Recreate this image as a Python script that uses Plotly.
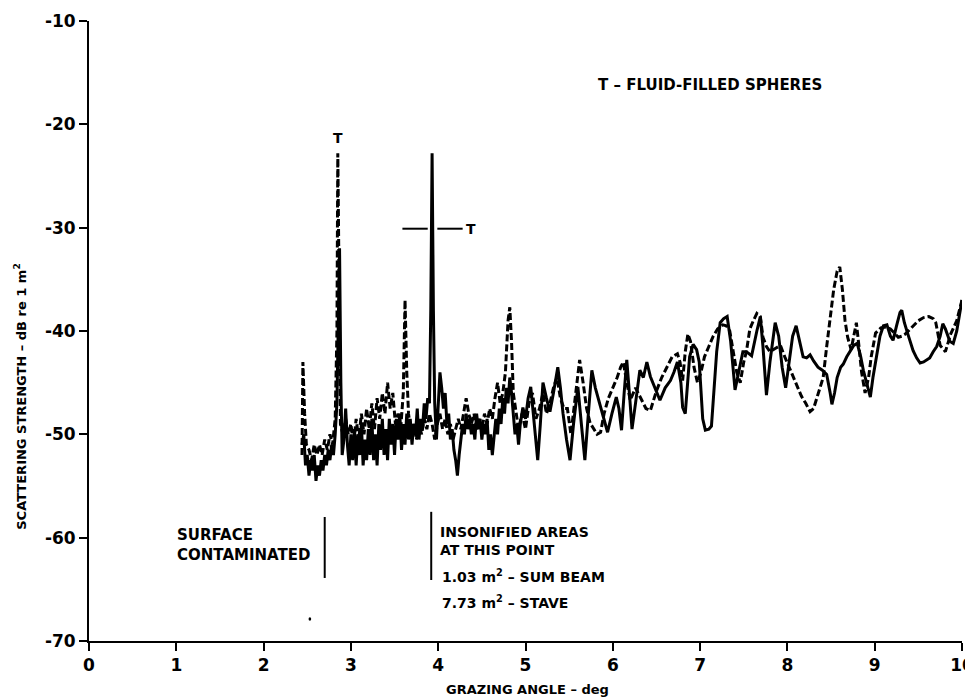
import plotly.graph_objects as go

# ---- data ----
solid_x = [2.44, 2.46, 2.48, 2.50, 2.52, 2.54, 2.56, 2.58, 2.60, 2.62, 2.64, 2.66, 2.68, 2.70, 2.72, 2.74, 2.76, 2.78, 2.80, 2.82, 2.84, 2.855, 2.87, 2.885, 2.90, 2.92, 2.94, 2.96, 2.98, 3.00, 3.02, 3.04, 3.06, 3.08, 3.10, 3.12, 3.14, 3.16, 3.18, 3.20, 3.22, 3.24, 3.26, 3.28, 3.30, 3.32, 3.34, 3.36, 3.38, 3.40, 3.42, 3.44, 3.46, 3.48, 3.50, 3.52, 3.54, 3.56, 3.58, 3.60, 3.62, 3.64, 3.66, 3.68, 3.70, 3.72, 3.74, 3.76, 3.78, 3.80, 3.82, 3.84, 3.86, 3.88, 3.90, 3.915, 3.93, 3.945, 3.96, 3.98, 4.00, 4.02, 4.04, 4.06, 4.08, 4.10, 4.12, 4.14, 4.16, 4.18, 4.20, 4.22, 4.24, 4.26, 4.28, 4.30, 4.32, 4.34, 4.36, 4.38, 4.40, 4.42, 4.44, 4.46, 4.48, 4.50, 4.52, 4.54, 4.56, 4.58, 4.60, 4.62, 4.64, 4.66, 4.68, 4.70, 4.72, 4.74, 4.76, 4.78, 4.80, 4.82, 4.84, 4.86, 4.88, 4.90, 4.92, 4.94, 4.97, 5.00, 5.03, 5.06, 5.09, 5.12, 5.14, 5.17, 5.20, 5.24, 5.28, 5.32, 5.37, 5.40, 5.43, 5.47, 5.51, 5.55, 5.60, 5.64, 5.68, 5.72, 5.76, 5.80, 5.85, 5.90, 5.94, 5.99, 6.04, 6.07, 6.10, 6.13, 6.16, 6.19, 6.22, 6.26, 6.31, 6.35, 6.39, 6.43, 6.48, 6.54, 6.60, 6.66, 6.70, 6.74, 6.78, 6.80, 6.83, 6.88, 6.92, 6.96, 6.99, 7.03, 7.06, 7.10, 7.13, 7.16, 7.19, 7.23, 7.27, 7.31, 7.35, 7.40, 7.43, 7.49, 7.53, 7.59, 7.65, 7.69, 7.72, 7.76, 7.80, 7.86, 7.90, 7.94, 7.98, 8.02, 8.06, 8.10, 8.14, 8.18, 8.22, 8.26, 8.30, 8.35, 8.40, 8.45, 8.49, 8.51, 8.54, 8.57, 8.61, 8.64, 8.68, 8.72, 8.76, 8.80, 8.84, 8.87, 8.91, 8.95, 8.98, 9.02, 9.06, 9.10, 9.14, 9.18, 9.21, 9.25, 9.29, 9.31, 9.34, 9.38, 9.44, 9.48, 9.52, 9.56, 9.60, 9.63, 9.67, 9.71, 9.75, 9.78, 9.81, 9.86, 9.90, 9.94, 9.97, 10.0]
solid_y = [-51, -50, -53, -52, -54, -52.5, -53.5, -52, -54.5, -53, -54, -52.5, -53.5, -52, -53, -51.5, -52.5, -51, -52, -50, -47, -40, -32, -45, -52, -50.5, -47.5, -51, -53, -50, -52.5, -49.5, -53, -50, -52, -49, -53, -50.5, -52.5, -49.5, -52, -48.5, -52.5, -50, -53, -49, -51.5, -48.5, -52, -49.5, -52.5, -48.5, -51, -49, -52, -48.5, -50.5, -48, -51.5, -49, -51, -48, -50.5, -48.5, -51, -49, -50, -47.5, -50.5, -48.5, -49.5, -47, -48.5, -46.5, -47, -38, -22.8, -38, -47, -50.5, -47, -44, -45.5, -47.5, -46, -49, -48, -50.5, -49.5, -51.5, -52.5, -54, -52, -50.5, -49, -50, -48, -49.5, -48.5, -50, -49, -50.5, -48, -49.5, -48.5, -50.5, -49, -50, -48.5, -51.5, -50, -52, -50.5, -48.5, -50, -47.5, -49, -46.5, -48, -45.5, -47, -44.5, -46, -48, -50, -49, -51, -49, -47.4, -48.5, -46.5, -45.4, -48, -51, -52.5, -49, -45, -46.5, -47.8, -46, -43.5, -45.5, -48, -50.5, -52.5, -49, -45.4, -49, -52.5, -48, -43.8, -45.5, -47, -48.5, -49.8, -48, -46.4, -47.5, -49.6, -46, -42.8, -46, -49.5, -47, -43.8, -44.5, -43, -44.4, -45.5, -46.7, -45.5, -44.8, -44, -43, -45, -47.4, -48, -42.5, -41.3, -41.8, -43, -48.5, -49.6, -49.5, -49.2, -45, -42, -39.2, -38.8, -38.6, -41, -45.7, -44.5, -42, -42, -42.4, -40, -38.6, -41.5, -46.2, -43, -39.2, -40.5, -43.5, -45.5, -43, -40.5, -39.5, -41, -42.5, -42.6, -42.3, -42.9, -43.5, -43.8, -44.2, -46, -47.1, -46, -44.5, -43.5, -43.2, -42.5, -42, -41.4, -41.2, -42.5, -43.8, -45, -46.4, -44.5, -42.5, -40.5, -39.5, -39.4, -40.5, -40.9, -39.5, -38.2, -38, -39.2, -40.3, -41.9, -42.6, -43.1, -43, -42.8, -42.6, -42, -41.5, -40.5, -39.3, -39.8, -41, -41.2, -40, -38.5, -37]

dashed_x = [2.44, 2.45, 2.47, 2.49, 2.52, 2.55, 2.58, 2.61, 2.64, 2.67, 2.70, 2.73, 2.76, 2.79, 2.82, 2.84, 2.85, 2.865, 2.88, 2.91, 2.94, 2.97, 3.00, 3.03, 3.06, 3.09, 3.12, 3.15, 3.18, 3.21, 3.24, 3.27, 3.30, 3.33, 3.36, 3.39, 3.42, 3.45, 3.48, 3.51, 3.54, 3.57, 3.60, 3.62, 3.64, 3.66, 3.69, 3.72, 3.75, 3.78, 3.81, 3.84, 3.87, 3.90, 3.93, 3.96, 3.99, 4.02, 4.05, 4.08, 4.11, 4.14, 4.17, 4.20, 4.23, 4.26, 4.29, 4.32, 4.35, 4.38, 4.41, 4.44, 4.47, 4.50, 4.53, 4.56, 4.59, 4.62, 4.65, 4.68, 4.71, 4.74, 4.77, 4.80, 4.82, 4.84, 4.86, 4.89, 4.92, 4.96, 5.00, 5.04, 5.08, 5.12, 5.16, 5.20, 5.24, 5.28, 5.32, 5.36, 5.40, 5.44, 5.48, 5.52, 5.56, 5.62, 5.66, 5.70, 5.74, 5.78, 5.82, 5.86, 5.90, 5.95, 6.00, 6.05, 6.09, 6.12, 6.16, 6.20, 6.26, 6.32, 6.38, 6.43, 6.50, 6.56, 6.62, 6.68, 6.74, 6.77, 6.80, 6.83, 6.86, 6.89, 6.93, 6.97, 7.01, 7.05, 7.10, 7.15, 7.20, 7.26, 7.30, 7.34, 7.38, 7.42, 7.46, 7.50, 7.53, 7.57, 7.61, 7.65, 7.69, 7.72, 7.76, 7.80, 7.86, 7.92, 7.97, 8.02, 8.07, 8.12, 8.16, 8.21, 8.26, 8.30, 8.33, 8.37, 8.41, 8.45, 8.49, 8.53, 8.57, 8.60, 8.63, 8.66, 8.69, 8.73, 8.76, 8.79, 8.82, 8.85, 8.89, 8.93, 8.96, 9.01, 9.07, 9.13, 9.18, 9.23, 9.27, 9.31, 9.35, 9.42, 9.50, 9.56, 9.62, 9.67, 9.70, 9.75, 9.81, 9.87, 9.94, 10.0]
dashed_y = [-52, -43, -48, -51, -51.5, -52.5, -51, -52, -51, -52, -50.5, -51.5, -50, -51, -48.5, -40, -22.8, -40, -49, -50, -48.5, -50, -49, -51, -48.5, -50.5, -48, -50, -47.5, -49.5, -47, -49.5, -46.5, -48.5, -46, -48, -45, -47.5, -46, -49, -48, -49.5, -46, -37, -44, -48, -50, -49, -50.5, -49, -50, -48.5, -49.5, -48, -49, -50.5, -49, -48, -49.5, -48.5, -50, -49, -50.5, -49.5, -48.5, -49.5, -48, -46.5, -48, -49, -48, -49.5, -48.5, -49.5, -48, -49, -47.5, -48.5, -46.5, -45, -47, -46, -44, -39, -37.7, -41, -46, -48, -49.5, -48, -49.5, -47, -46, -48.5, -47.5, -46, -48, -47, -45.5, -44.5, -46.5, -47.5, -47.5, -50, -47, -42.8, -45, -47.5, -48.9, -49.5, -50, -49.8, -48, -46.5, -45.5, -44.5, -43.5, -43, -45, -46.7, -45.5, -46.5, -47.5, -47.7, -45.8, -44.5, -43.5, -42.5, -42.2, -43, -44.8, -42, -40.3, -41, -43.5, -45, -44, -42.5, -41.5, -40.5, -39.8, -39.4, -39.5, -40, -42, -44, -45, -43, -42, -39.8, -39, -38.3, -38.6, -40.6, -41.5, -42, -41.7, -41.4, -42.5, -43.5, -44.6, -45.5, -46.3, -47, -47.8, -47.5, -46.7, -45.5, -44.5, -41.5, -39, -36, -34.2, -33.8, -36, -39, -40.6, -41.8, -40.5, -39.2, -41.5, -44, -46, -44.5, -42.5, -40.2, -39.7, -39.6, -39.8, -40.3, -40.6, -40.5, -40.3, -39.7, -39, -38.7, -38.6, -38.8, -39.2, -41.4, -42, -40.3, -39, -37]

x_ticks = [0, 1, 2, 3, 4, 5, 6, 7, 8, 9, 10]
y_ticks = [-70, -60, -50, -40, -30, -20, -10]

FONT = "DejaVu Sans"

fig = go.Figure()
fig.add_trace(go.Scatter(x=dashed_x, y=dashed_y, mode="lines",
                         line=dict(color="black", width=3, dash="7px,3px"),
                         showlegend=False, hoverinfo="skip"))
fig.add_trace(go.Scatter(x=solid_x, y=solid_y, mode="lines",
                         line=dict(color="black", width=3),
                         showlegend=False, hoverinfo="skip"))

# T marker lines near the solid spike
fig.add_shape(type="line", x0=3.59, x1=3.88, y0=-30.1, y1=-30.1, line=dict(color="black", width=2))
fig.add_shape(type="line", x0=3.99, x1=4.28, y0=-30.1, y1=-30.1, line=dict(color="black", width=2))
# vertical marker lines
fig.add_shape(type="line", x0=2.70, x1=2.70, y0=-58.0, y1=-63.9, line=dict(color="black", width=2))
fig.add_shape(type="line", x0=3.92, x1=3.92, y0=-57.5, y1=-64.1, line=dict(color="black", width=2))
# small speck
fig.add_shape(type="circle", x0=2.515, x1=2.545, y0=-67.7, y1=-68.05, fillcolor="black", line=dict(width=0))

anns = [
    dict(x=7.11, y=-16.2, text="T – FLUID-FILLED SPHERES", xanchor="center", size=15),
    dict(x=2.85, y=-21.3, text="T", xanchor="center", size=14),
    dict(x=4.30, y=-30.1, text="T", xanchor="left", size=14),
    dict(x=0.99, y=-60.7, text="SURFACE<br>CONTAMINATED", xanchor="left", align="left", size=15),
    dict(x=4.0, y=-60.3, text="INSONIFIED AREAS<br>AT THIS POINT", xanchor="left", align="left", size=14),
    dict(x=4.02, y=-63.7, text="1.03 m<sup>2</sup> – SUM BEAM", xanchor="left", align="left", size=14),
    dict(x=4.02, y=-66.2, text="7.73 m<sup>2</sup> – STAVE", xanchor="left", align="left", size=14),
]
for a in anns:
    sz = a.pop("size")
    fig.add_annotation(xref="x", yref="y", showarrow=False,
                       font=dict(family=FONT, size=sz, color="black", weight="bold"),
                       yanchor="middle", **a)

# axis titles as paper-anchored annotations
fig.add_annotation(xref="paper", yref="paper", x=0.502, y=-0.079, showarrow=False,
                   text="GRAZING ANGLE – deg", xanchor="center", yanchor="middle",
                   font=dict(family=FONT, size=13, color="black", weight="bold"))
fig.add_annotation(xref="paper", yref="paper", x=-0.079, y=0.394, showarrow=False,
                   text="SCATTERING STRENGTH – dB re 1 m<sup>2</sup>", textangle=-90,
                   xanchor="center", yanchor="middle",
                   font=dict(family=FONT, size=13, color="black", weight="bold"))

# page body has an 8px margin, so the figure is sized to fit inside the window
fig.update_layout(
    width=965, height=691,
    margin=dict(l=81, r=11, t=13, b=58),
    paper_bgcolor="white", plot_bgcolor="white",
    font=dict(family=FONT, color="black"),
)
fig.update_xaxes(range=[0, 10], tickvals=x_ticks, ticktext=[str(v) for v in x_ticks],
                 automargin=False, ticklabeloverflow="allow",
                 showgrid=False, zeroline=False, showline=True, linecolor="black", linewidth=2,
                 ticks="outside", ticklen=8, tickwidth=2, tickcolor="black",
                 tickfont=dict(family=FONT, size=17, color="black", weight="bold"))
fig.update_yaxes(range=[-70, -10], tickvals=y_ticks, ticktext=[str(v) for v in y_ticks],
                 automargin=False, ticklabeloverflow="allow",
                 showgrid=False, zeroline=False, showline=True, linecolor="black", linewidth=2,
                 ticks="outside", ticklen=8, tickwidth=2, tickcolor="black",
                 tickfont=dict(family=FONT, size=17, color="black", weight="bold"))

fig.write_html("out.html")
